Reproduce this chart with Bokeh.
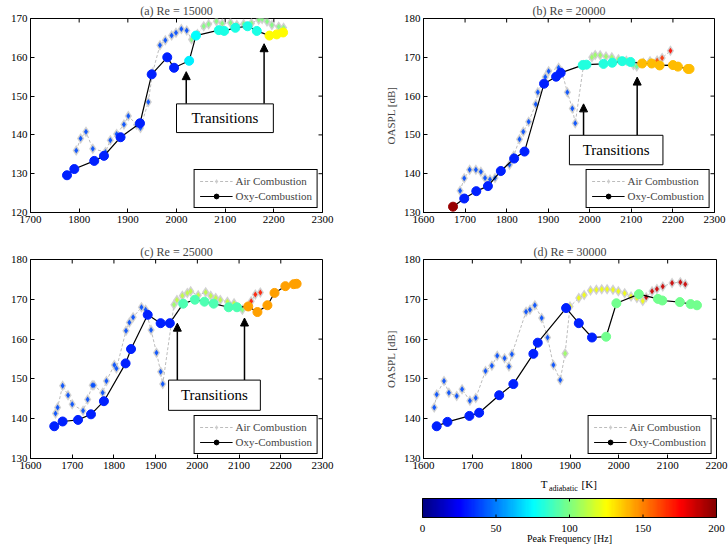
import numpy as np
from bokeh.plotting import figure
from bokeh.layouts import column, row
from bokeh.models import (FixedTicker, Range1d, BoxAnnotation, Label, Arrow,
                          NormalHead, Legend, LegendItem, LinearColorMapper, ColumnDataSource, Spacer)
from bokeh.transform import transform
from bokeh.core.properties import value
from bokeh.embed import file_html
from bokeh.resources import INLINE

# ---------------- data ----------------
# (a) Re = 15000
a_air_T = [1794, 1803, 1814, 1828, 1854, 1864, 1877, 1892, 1901, 1918, 1926, 1942, 1951, 1966, 1977, 1990,
           1999, 2010, 2021, 2031, 2043, 2056, 2066, 2082, 2094, 2111, 2124, 2138, 2154, 2169, 2176, 2186,
           2196, 2210, 2220]
a_air_L = [136.0, 139.1, 140.8, 136.4, 135.6, 138.6, 140.2, 142.7, 144.9, 142.6, 141.8, 148.5, 156.1, 163.1,
           164.4, 165.6, 166.3, 167.3, 166.9, 164.6, 166.0, 168.0, 168.5, 169.3, 168.7, 168.9, 168.3, 168.6,
           168.8, 169.7, 169.9, 169.2, 168.3, 167.9, 167.6]
a_air_F = [40] * 19 + [100] * 16
a_oxy_T = [1775, 1790, 1831, 1851, 1885, 1925, 1949, 1981, 1995, 2026, 2040, 2087, 2098, 2121, 2146, 2165,
           2191, 2206, 2219]
a_oxy_L = [129.6, 131.2, 133.3, 134.6, 139.4, 143.0, 155.6, 160.0, 157.3, 159.1, 165.6, 167.0, 166.8, 167.6,
           168.0, 166.8, 165.6, 165.9, 166.4]
a_oxy_F = [32] * 9 + [72, 75] + [80] * 5 + [125] * 3

# (b) Re = 20000
b_air_T = [1688, 1698, 1711, 1726, 1738, 1748, 1760, 1772, 1786, 1807, 1817, 1831, 1840, 1853, 1870, 1875,
           1893, 1901, 1925, 1933, 1946, 1958, 1965, 1985, 2005, 2013, 2025, 2039, 2053, 2069, 2088, 2105,
           2113, 2129, 2145, 2162, 2174, 2194]
b_air_L = [135.6, 138.8, 141.0, 141.0, 140.5, 138.9, 138.5, 138.9, 140.6, 142.3, 144.6, 148.9, 150.8, 153.4,
           157.9, 161.0, 164.9, 166.4, 167.3, 166.3, 161.0, 156.8, 153.0, 168.0, 170.0, 170.6, 170.5, 170.2,
           170.0, 169.5, 169.1, 168.0, 167.6, 168.6, 169.0, 169.2, 169.8, 171.7]
b_air_F = [40] * 23 + [85] + [105] * 7 + [95] * 2 + [110] * 2 + [160, 165, 172]
b_oxy_T = [1671, 1698, 1727, 1755, 1786, 1818, 1843, 1890, 1919, 1930, 1983, 1992, 2033, 2054, 2078, 2098,
           2126, 2149, 2168, 2200, 2212, 2236, 2240]
b_oxy_L = [131.5, 133.6, 135.5, 136.8, 140.7, 143.9, 145.7, 163.2, 165.0, 166.0, 168.0, 168.1, 168.3, 168.6,
           169.0, 168.8, 168.4, 168.4, 167.9, 168.0, 167.6, 167.0, 167.0]
b_oxy_F = [195] + [32] * 9 + [82] * 6 + [138] * 7

# (c) Re = 25000
c_air_T = [1660, 1665, 1677, 1690, 1700, 1726, 1737, 1748, 1752, 1773, 1782, 1801, 1806, 1829, 1837, 1846,
           1866, 1876, 1889, 1902, 1912, 1917, 1944, 1951, 1964, 1976, 1984, 2002, 2020, 2032, 2044, 2055,
           2072, 2088, 2108, 2129, 2139, 2151]
c_air_L = [141.3, 142.8, 148.3, 145.9, 143.6, 142.0, 144.8, 148.4, 148.4, 146.5, 149.5, 153.5, 152.6, 162.1,
           164.2, 165.5, 168.0, 167.4, 162.3, 156.6, 151.8, 148.7, 168.6, 169.8, 170.9, 171.6, 172.0, 171.0,
           171.8, 170.9, 170.3, 169.8, 169.4, 169.0, 167.4, 169.5, 171.2, 171.7]
c_air_F = [40] * 22 + [105] + [112] * 11 + [100] + [170] * 3
c_oxy_T = [1657, 1677, 1714, 1745, 1776, 1828, 1841, 1881, 1912, 1934, 1966, 1994, 2017, 2039, 2075, 2095,
           2122, 2144, 2168, 2185, 2211, 2231, 2238]
c_oxy_L = [138.1, 139.3, 139.7, 141.1, 144.4, 153.9, 157.5, 166.1, 164.0, 164.0, 168.9, 169.9, 169.4, 168.9,
           168.0, 168.0, 168.2, 166.8, 168.5, 171.6, 173.3, 173.8, 173.9]
c_oxy_F = [32] * 10 + [90] * 6 + [143] * 7

# (d) Re = 30000
d_air_T = [1622, 1627, 1642, 1652, 1668, 1679, 1695, 1707, 1727, 1740, 1751, 1766, 1775, 1781, 1810, 1818,
           1828, 1842, 1854, 1866, 1880, 1890, 1900, 1918, 1929, 1942, 1954, 1965, 1976, 1988, 1999, 2012,
           2025, 2037, 2049, 2056, 2068, 2078, 2090, 2109, 2126, 2136]
d_air_L = [142.8, 146.1, 149.5, 146.5, 145.7, 147.4, 144.5, 145.2, 152.0, 153.3, 155.8, 155.2, 153.1, 156.2,
           166.9, 167.4, 168.5, 165.3, 160.4, 153.5, 149.7, 156.4, 168.2, 170.3, 171.1, 172.2, 172.4, 172.5,
           172.5, 172.4, 172.0, 171.5, 170.7, 170.3, 169.6, 170.5, 172.0, 172.6, 173.2, 174.1, 174.3, 173.8]
d_air_F = [40] * 21 + [105] + [122] * 13 + [185] * 7
d_oxy_T = [1627, 1649, 1694, 1714, 1755, 1784, 1825, 1834, 1892, 1918, 1945, 1974, 1995, 2041, 2080, 2089,
           2125, 2147, 2160]
d_oxy_L = [138.1, 139.2, 140.7, 141.5, 145.9, 148.7, 156.3, 159.1, 167.8, 164.0, 160.4, 160.6, 169.0, 171.3,
           170.1, 169.7, 169.3, 168.8, 168.5]
d_oxy_F = [32] * 11 + [97] * 8

titles = ["(a) Re = 15000", "(b) Re = 20000", "(c) Re = 25000", "(d) Re = 30000"]
x_ticks_a = [1700, 1800, 1900, 2000, 2100, 2200, 2300]
x_ticks_bc = [1600, 1700, 1800, 1900, 2000, 2100, 2200, 2300]
x_ticks_d = [1600, 1700, 1800, 1900, 2000, 2100, 2200]
y_ticks_a = [120, 130, 140, 150, 160, 170]
y_ticks = [130, 140, 150, 160, 170, 180]
cb_ticks = [0, 50, 100, 150, 200]

FONT = "Liberation Serif"


def jet(n=256):
    cols = []
    for i in range(n):
        t = i / (n - 1)
        r = min(max(1.5 - abs(4 * t - 3), 0), 1)
        g = min(max(1.5 - abs(4 * t - 2), 0), 1)
        b = min(max(1.5 - abs(4 * t - 1), 0), 1)
        cols.append("#%02x%02x%02x" % (round(r * 255), round(g * 255), round(b * 255)))
    return cols


mapper = LinearColorMapper(palette=jet(), low=0, high=200)


def style_axis(ax):
    ax.major_tick_in = 4
    ax.major_tick_out = 0
    ax.minor_tick_line_color = None
    ax.axis_line_color = "black"
    ax.major_tick_line_color = "black"
    ax.major_label_text_font = FONT
    ax.major_label_text_color = "black"
    ax.major_label_text_font_size = "11px"
    ax.major_label_standoff = 3


def panel(title, air, oxy, xr, yr, xt, yt, w, h, bl, br, bt, bb, ylabel=None, box=None, arrows=()):
    p = figure(width=w, height=h, x_range=Range1d(*xr), y_range=Range1d(*yr),
               toolbar_location=None, output_backend="svg",
               min_border_left=bl, min_border_right=br, min_border_top=bt, min_border_bottom=bb)
    p.grid.visible = False
    p.outline_line_color = "black"
    p.outline_line_alpha = 1
    p.title.text = title
    p.title.align = "center"
    p.title.text_font = FONT
    p.title.text_font_style = "normal"
    p.title.text_font_size = "12px"
    p.title.standoff = 2
    p.xaxis.ticker = FixedTicker(ticks=xt)
    p.yaxis.ticker = FixedTicker(ticks=yt)
    style_axis(p.xaxis[0])
    style_axis(p.yaxis[0])
    if ylabel:
        p.yaxis[0].axis_label = ylabel
        p.yaxis[0].axis_label_text_font = FONT
        p.yaxis[0].axis_label_text_font_style = "normal"
        p.yaxis[0].axis_label_text_font_size = "11px"
        p.yaxis[0].axis_label_standoff = 4

    # inward ticks on the top and right frame edges (MATLAB box style)
    fw = w - bl - br
    fh = h - bt - bb
    tlx = 4.0 * (xr[1] - xr[0]) / fw
    tly = 4.0 * (yr[1] - yr[0]) / fh
    p.segment(x0=xt, y0=[yr[1]] * len(xt), x1=xt, y1=[yr[1] - tly] * len(xt), line_color="black")
    p.segment(x0=[xr[1]] * len(yt), y0=yt, x1=[xr[1] - tlx] * len(yt), y1=yt, line_color="black")

    sa = ColumnDataSource(dict(x=air[0], y=air[1], f=air[2]))
    la = p.line('x', 'y', source=sa, line_color="#bcbcbc", line_dash="3 2", line_width=1)
    ga = p.scatter('x', 'y', source=sa, marker="diamond", size=11, fill_color="#cccccc",
                   line_color=None, fill_alpha=0.9)
    p.scatter('x', 'y', source=sa, marker="diamond", size=6, fill_color=transform('f', mapper),
              line_color=None, fill_alpha=0.9)

    so = ColumnDataSource(dict(x=oxy[0], y=oxy[1], f=oxy[2]))
    lo = p.line('x', 'y', source=so, line_color="black", line_width=1.2)
    p.scatter('x', 'y', source=so, marker="circle", size=9, fill_color=transform('f', mapper),
              line_color=transform('f', mapper))
    # legend proxy for the black circle (kept outside the visible ranges)
    proxy = p.scatter(x=[xr[0] - 1000], y=[yr[0] - 1000], marker="circle", size=8,
                      fill_color="black", line_color="black")

    if box is not None:
        l, r, b, t = box
        for ax_x, ax_y in arrows:
            p.add_layout(Arrow(end=NormalHead(size=8, fill_color="black", line_color="black"),
                               x_start=ax_x, y_start=t, x_end=ax_x, y_end=ax_y,
                               line_color="black", line_width=1.5))
        p.add_layout(BoxAnnotation(left=l, right=r, bottom=b, top=t, fill_color="white", fill_alpha=1,
                                   line_color="black", line_width=1, line_alpha=1))
        p.add_layout(Label(x=(l + r) / 2, y=(b + t) / 2, text="Transitions", text_align="center",
                           text_baseline="middle", text_font=FONT, text_font_size="15px",
                           text_color="black"))

    legend = Legend(items=[LegendItem(label="Air Combustion", renderers=[la, ga]),
                           LegendItem(label="Oxy-Combustion", renderers=[lo, proxy])],
                    location="bottom_right", margin=4, padding=5, spacing=3,
                    glyph_width=33, glyph_height=12, label_height=12, label_standoff=3,
                    label_text_font=FONT, label_text_font_size="11px",
                    border_line_color="black", border_line_alpha=1, border_line_width=1,
                    background_fill_alpha=1)
    p.add_layout(legend)
    return p


pa = panel(titles[0], (a_air_T, a_air_L, a_air_F), (a_oxy_T, a_oxy_L, a_oxy_F),
           (1700, 2300), (120, 170), x_ticks_a, y_ticks_a, 364, 236, 30, 42, 18, 24,
           box=(2000, 2199, 140.6, 148.0), arrows=[(2020, 156.3), (2180, 163.5)])
pb = panel(titles[1], (b_air_T, b_air_L, b_air_F), (b_oxy_T, b_oxy_L, b_oxy_F),
           (1600, 2300), (130, 180), x_ticks_bc, y_ticks, 364, 236, 59, 14, 18, 24,
           ylabel="OASPL [dB]", box=(1951, 2176, 142.3, 149.9), arrows=[(1985, 158.0), (2114, 164.9)])
pc = panel(titles[2], (c_air_T, c_air_L, c_air_F), (c_oxy_T, c_oxy_L, c_oxy_F),
           (1600, 2300), (130, 180), x_ticks_bc, y_ticks, 364, 240, 30, 42, 23, 18,
           box=(1931, 2151, 142.1, 149.7), arrows=[(1952, 164.0), (2113, 165.3)])
pd_ = panel(titles[3], (d_air_T, d_air_L, d_air_F), (d_oxy_T, d_oxy_L, d_oxy_F),
            (1600, 2200), (130, 180), x_ticks_d, y_ticks, 364, 240, 59, 12, 23, 18,
            ylabel="OASPL [dB]")

# colour bar + shared x label (pixel-like y units: y = 544 - page_y)
cb = figure(width=364, height=68, x_range=Range1d(-39.46, 208.16), y_range=Range1d(0, 68),
            toolbar_location=None, output_backend="svg", x_axis_location=None, y_axis_location=None,
            min_border=0)
cb.grid.visible = False
cb.outline_line_color = None
cb.image(image=[np.linspace(0, 200, 256).reshape(1, -1)], x=0, y=27, dw=200, dh=19, color_mapper=mapper)
cb.quad(left=[0], right=[200], bottom=[27], top=[46], fill_color=None, line_color="black", line_width=1)
cb.segment(x0=cb_ticks, y0=[27] * 5, x1=cb_ticks, y1=[30] * 5, line_color="black")
cb.segment(x0=cb_ticks, y0=[43] * 5, x1=cb_ticks, y1=[46] * 5, line_color="black")
cb.text(x=cb_ticks, y=[16] * 5, text=[str(t) for t in cb_ticks], text_align="center",
        text_baseline="middle", text_font=value(FONT), text_font_size="11px", text_color="black")
cb.text(x=[100], y=[6], text=["Peak Frequency [Hz]"], text_align="center", text_baseline="middle",
        text_font=value(FONT), text_font_size="10px", text_color="black")
cb.text(x=[85.0], y=[61], text=["T"], text_align="right", text_baseline="middle",
        text_font=value(FONT), text_font_size="11px", text_color="black")
cb.text(x=[86.0], y=[56.5], text=["adiabatic"], text_align="left", text_baseline="middle",
        text_font=value(FONT), text_font_size="8px", text_color="black")
cb.text(x=[108.2], y=[61], text=["[K]"], text_align="left", text_baseline="middle",
        text_font=value(FONT), text_font_size="11px", text_color="black")

layout = column(row(pa, pb), row(pc, pd_), row(Spacer(width=364, height=68), cb))

open("out.html", "w").write(file_html(layout, INLINE))
